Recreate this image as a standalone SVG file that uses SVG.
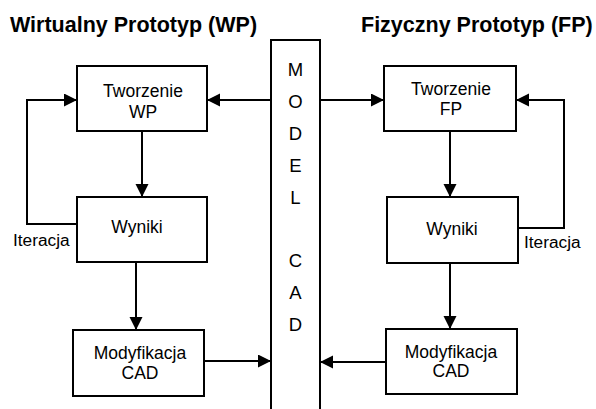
<svg xmlns="http://www.w3.org/2000/svg" width="596" height="409" viewBox="0 0 596 409">
<style>
text{font-family:"Liberation Sans",Arial,sans-serif;fill:#000}
.t{font-size:21.5px;font-weight:bold}
.b{font-size:17.5px;text-anchor:middle}
.m{font-size:18.5px;text-anchor:middle}
.i{font-size:17.3px}
.box{fill:#fff;stroke:#000;stroke-width:2}
.c{fill:none;stroke:#000;stroke-width:2}
</style>
<defs>
<marker id="ah" markerUnits="userSpaceOnUse" markerWidth="14" markerHeight="14" refX="13" refY="6.5" orient="auto">
<path d="M0,0 L13,6.5 L0,13 z" fill="#000"/>
</marker>
</defs>
<rect width="596" height="409" fill="#fff"/>
<text class="t" x="10" y="31.5">Wirtualny Prototyp (WP)</text>
<text class="t" x="361" y="31.7">Fizyczny Prototyp (FP)</text>
<g id="model">
<path class="c" d="M271,409 V40 H320 V409"/>
<text class="m" x="295.5" y="76">M</text>
<text class="m" x="295.5" y="108">O</text>
<text class="m" x="295.5" y="140">D</text>
<text class="m" x="295.5" y="172">E</text>
<text class="m" x="295.5" y="204">L</text>
<text class="m" x="295.5" y="267">C</text>
<text class="m" x="295.5" y="299">A</text>
<text class="m" x="295.5" y="331">D</text>
</g>
<g id="tworzenie-wp">
<rect class="box" x="77" y="66" width="130" height="65"/>
<text class="b" x="143" y="96.5">Tworzenie</text>
<text class="b" x="143" y="118">WP</text>
</g>
<g id="wyniki-wp">
<rect class="box" x="77" y="197" width="130" height="65"/>
<text class="b" x="137" y="233">Wyniki</text>
</g>
<g id="mod-wp">
<rect class="box" x="73" y="330" width="131" height="66"/>
<text class="b" x="140" y="359">Modyfikacja</text>
<text class="b" x="140" y="379">CAD</text>
</g>
<g id="tworzenie-fp">
<rect class="box" x="384" y="66" width="132" height="65"/>
<text class="b" x="451" y="95">Tworzenie</text>
<text class="b" x="451" y="115">FP</text>
</g>
<g id="wyniki-fp">
<rect class="box" x="387" y="197" width="131" height="66"/>
<text class="b" x="452" y="235">Wyniki</text>
</g>
<g id="mod-fp">
<rect class="box" x="386" y="329" width="131" height="65"/>
<text class="b" x="451" y="358">Modyfikacja</text>
<text class="b" x="451" y="377">CAD</text>
</g>
<g id="connectors">
<path class="c" d="M271,100 H207" marker-end="url(#ah)"/>
<path class="c" d="M320,100 H384" marker-end="url(#ah)"/>
<path class="c" d="M77,224 H27 V100 H77" marker-end="url(#ah)"/>
<path class="c" d="M518,228 H564 V100 H516" marker-end="url(#ah)"/>
<path class="c" d="M142,131 V197" marker-end="url(#ah)"/>
<path class="c" d="M450,131 V197" marker-end="url(#ah)"/>
<path class="c" d="M136,262 V330" marker-end="url(#ah)"/>
<path class="c" d="M450,263 V329" marker-end="url(#ah)"/>
<path class="c" d="M204,361 H271" marker-end="url(#ah)"/>
<path class="c" d="M386,362 H320" marker-end="url(#ah)"/>
<text class="i" x="13" y="246">Iteracja</text>
<text class="i" x="524" y="248">Iteracja</text>
</g>
</svg>
